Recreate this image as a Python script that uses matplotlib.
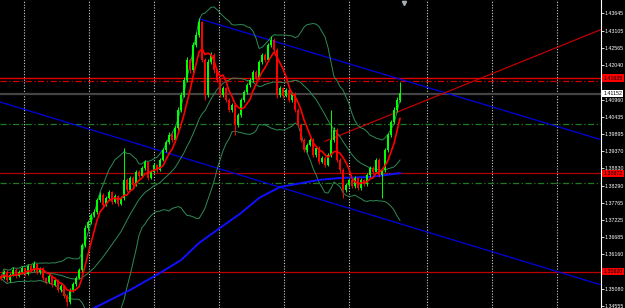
import matplotlib
matplotlib.use("Agg")
import matplotlib.pyplot as plt
import matplotlib.transforms as mtransforms
import pandas as pd

# candles (one per bar, oldest first)
first_open = 1.3549
close = [1.3542, 1.3561, 1.3536, 1.3552, 1.3567, 1.3549, 1.3561, 1.3573, 1.3555, 1.3580,
         1.3567, 1.3586, 1.3561, 1.3573, 1.3542, 1.3530, 1.3549, 1.3521, 1.3536, 1.3505,
         1.3518, 1.3486, 1.3468, 1.3505, 1.3524, 1.3542, 1.3567, 1.3645, 1.3698, 1.3716,
         1.3738, 1.3747, 1.3785, 1.3800, 1.3769, 1.3791, 1.3809, 1.3778, 1.3797, 1.3772,
         1.3791, 1.3847, 1.3816, 1.3853, 1.3831, 1.3872, 1.3859, 1.3884, 1.3903, 1.3853,
         1.3872, 1.3893, 1.3878, 1.3909, 1.3940, 1.3965, 1.3987, 1.3971, 1.4008, 1.4064,
         1.4111, 1.4157, 1.4220, 1.4188, 1.4266, 1.4297, 1.4337, 1.4220, 1.4111, 1.4213,
         1.4235, 1.4188, 1.4157, 1.4111, 1.4132, 1.4095, 1.4064, 1.4080, 1.4018, 1.4049,
         1.4095, 1.4120, 1.4142, 1.4157, 1.4182, 1.4164, 1.4213, 1.4235, 1.4220, 1.4266,
         1.4282, 1.4251, 1.4111, 1.4132, 1.4108, 1.4126, 1.4095, 1.4114, 1.4064, 1.4018,
         1.3971, 1.3940, 1.3956, 1.3971, 1.3924, 1.3946, 1.3903, 1.3915, 1.3893, 1.3924,
         1.3971, 1.4002, 1.3909, 1.3878, 1.3816, 1.3831, 1.3847, 1.3828, 1.3853, 1.3822,
         1.3847, 1.3834, 1.3862, 1.3884, 1.3872, 1.3909, 1.3862, 1.3878, 1.3940, 1.3987,
         1.4027, 1.4064, 1.4095, 1.4115]
high = [1.3556, 1.3568, 1.3566, 1.3558, 1.3575, 1.3572, 1.3566, 1.3580, 1.3578, 1.3587,
        1.3585, 1.3595, 1.3590, 1.3578, 1.3577, 1.3547, 1.3556, 1.3553, 1.3542, 1.3540,
        1.3524, 1.3522, 1.3492, 1.3510, 1.3530, 1.3548, 1.3574, 1.3652, 1.3706, 1.3724,
        1.3745, 1.3756, 1.3792, 1.3808, 1.3805, 1.3797, 1.3816, 1.3813, 1.3803, 1.3801,
        1.3797, 1.3946, 1.3853, 1.3860, 1.3858, 1.3879, 1.3877, 1.3890, 1.3910, 1.3907,
        1.3878, 1.3900, 1.3897, 1.3915, 1.3947, 1.3972, 1.3995, 1.3992, 1.4015, 1.4072,
        1.4120, 1.4166, 1.4230, 1.4226, 1.4274, 1.4306, 1.4350, 1.4342, 1.4226, 1.4222,
        1.4245, 1.4240, 1.4193, 1.4162, 1.4140, 1.4137, 1.4100, 1.4087, 1.4085, 1.4055,
        1.4102, 1.4127, 1.4149, 1.4164, 1.4189, 1.4188, 1.4220, 1.4242, 1.4240, 1.4273,
        1.4294, 1.4288, 1.4256, 1.4139, 1.4137, 1.4133, 1.4130, 1.4120, 1.4119, 1.4069,
        1.4023, 1.3976, 1.3963, 1.3978, 1.3976, 1.3953, 1.3951, 1.3922, 1.3920, 1.3930,
        1.4064, 1.4010, 1.4007, 1.3914, 1.3883, 1.3838, 1.3853, 1.3852, 1.3859, 1.3857,
        1.3853, 1.3851, 1.3869, 1.3891, 1.3889, 1.3916, 1.3914, 1.3884, 1.3947, 1.3994,
        1.4034, 1.4072, 1.4103, 1.4151]
low = [1.3536, 1.3538, 1.3530, 1.3531, 1.3548, 1.3543, 1.3545, 1.3557, 1.3549, 1.3551,
       1.3562, 1.3563, 1.3555, 1.3556, 1.3536, 1.3524, 1.3526, 1.3515, 1.3517, 1.3498,
       1.3499, 1.3480, 1.3455, 1.3462, 1.3500, 1.3519, 1.3538, 1.3562, 1.3640, 1.3690,
       1.3710, 1.3731, 1.3742, 1.3779, 1.3763, 1.3765, 1.3786, 1.3772, 1.3774, 1.3766,
       1.3768, 1.3786, 1.3810, 1.3812, 1.3825, 1.3827, 1.3853, 1.3855, 1.3879, 1.3847,
       1.3849, 1.3868, 1.3872, 1.3874, 1.3905, 1.3935, 1.3960, 1.3965, 1.3966, 1.4002,
       1.4058, 1.4105, 1.4150, 1.4180, 1.4183, 1.4260, 1.4290, 1.4212, 1.4095, 1.4105,
       1.4206, 1.4180, 1.4150, 1.4104, 1.4106, 1.4088, 1.4057, 1.4058, 1.3987, 1.4012,
       1.4043, 1.4090, 1.4115, 1.4137, 1.4152, 1.4158, 1.4159, 1.4208, 1.4214, 1.4215,
       1.4260, 1.4245, 1.4100, 1.4105, 1.4102, 1.4103, 1.4089, 1.4090, 1.4058, 1.4010,
       1.3964, 1.3933, 1.3935, 1.3951, 1.3917, 1.3919, 1.3896, 1.3898, 1.3886, 1.3889,
       1.3919, 1.3965, 1.3902, 1.3870, 1.3791, 1.3808, 1.3826, 1.3821, 1.3823, 1.3815,
       1.3817, 1.3828, 1.3829, 1.3857, 1.3866, 1.3867, 1.3855, 1.3791, 1.3873, 1.3935,
       1.3981, 1.4020, 1.4058, 1.4090]

# slow moving average (blue), read at some bars
slow_ma_bar = [29, 31, 43, 53, 60, 66, 73, 80, 86, 93, 100, 106, 113, 123, 133]
slow_ma = [1.3437, 1.3449, 1.3505, 1.3558, 1.3598, 1.3651, 1.3698, 1.3744, 1.3791,
           1.3825, 1.3837, 1.3847, 1.3853, 1.3856, 1.3868]

# horizontal levels
bid = 1.41152
red_levels = [1.41635, 1.38672, 1.35620]
red_dashdot = 1.4154
green_dashdot = [1.4021, 1.3837]

# trend lines: (bar, price) pairs
upper_trend = [(66.3, 1.4347), (200, 1.3972)]
lower_trend = [(-0.33, 1.4089), (200, 1.3521)]
red_trend = [(108, 1.3967), (200, 1.4314)]

# vertical grid (period separators), in bars
grid_bars = [7.7, 29.3, 51, 72.7, 94.3, 116, 142, 163.7, 185.3]

yticks = [1.43645, 1.43105, 1.42565, 1.42040, 1.40960, 1.40435, 1.39895, 1.39370,
          1.38830, 1.38290, 1.37765, 1.37225, 1.36685, 1.36160, 1.35080, 1.34555]

opens = [first_open] + close[:-1]
n = len(close)
bars = list(range(n))

s = pd.Series(close)
fast_ma = s.rolling(6, min_periods=1).mean()
bb_mid = s.rolling(20, min_periods=1).mean()
bb_sd = s.rolling(20, min_periods=1).std(ddof=0)
bb_up = bb_mid + 2 * bb_sd
bb_dn = bb_mid - 2 * bb_sd

plt.rcParams['font.family'] = ['Liberation Sans', 'DejaVu Sans']

fig = plt.figure(figsize=(6.25, 3.08), dpi=100, facecolor='black')
ax = fig.add_axes([0, 0, 601 / 625, 1], facecolor='black')
ax.set_xlim(-1 / 3, 200)
ax.set_ylim(1.34492, 1.44058)

for b in grid_bars:
    ax.axvline(b, color='#d0d0d0', lw=0.8, ls=(0, (1, 1.5)), zorder=1)

ax.axhline(red_levels[0], color='#e00000', lw=1.0, zorder=2)
ax.axhline(red_dashdot, color='#d00000', lw=0.9, ls=(0, (5, 2, 1, 2)), zorder=2)
ax.axhline(bid, color='#444444', lw=1.6, zorder=2)
ax.axhline(red_levels[1], color='#b00000', lw=0.9, zorder=2)
ax.axhline(red_levels[2], color='#c00000', lw=0.9, zorder=2)
for g in green_dashdot:
    ax.axhline(g, color='#1f7a1f', lw=0.9, ls=(0, (5, 2, 1, 2)), zorder=2)

for line, col in [(upper_trend, '#0000e0'), (lower_trend, '#0000e0'), (red_trend, '#c00000')]:
    ax.plot([line[0][0], line[1][0]], [line[0][1], line[1][1]], color=col, lw=0.9, zorder=3)

ax.plot(bars, bb_up, color='#2e8b57', lw=0.7, zorder=3)
ax.plot(bars, bb_mid, color='#2e8b57', lw=0.7, zorder=3)
ax.plot(bars, bb_dn, color='#2e8b57', lw=0.7, zorder=3)
ax.plot(slow_ma_bar, slow_ma, color='#1010ff', lw=1.4, zorder=3)

cols = ['#00ff00' if c >= o else '#ff0000' for o, c in zip(opens, close)]
ax.vlines(bars, low, high, colors=cols, lw=0.7, zorder=4)
ax.bar(bars, [abs(c - o) + 0.00005 for o, c in zip(opens, close)],
       bottom=[min(o, c) for o, c in zip(opens, close)], width=0.6, color=cols, zorder=4)

ax.plot(bars, fast_ma, color='#ff0000', lw=1.2, zorder=5)

# small object marker at the top
ax.plot([134.3], [1.4398], marker='v', color='#a8b0b8', ms=3, zorder=6)

# right price scale
for sp in ['left', 'top', 'bottom']:
    ax.spines[sp].set_visible(False)
ax.spines['right'].set_color('white')
ax.spines['right'].set_linewidth(0.8)
ax.set_xticks([])
ax.yaxis.tick_right()
ax.set_yticks(yticks)
ax.set_yticklabels(['%.5f' % v for v in yticks])
ax.tick_params(axis='y', colors='white', labelsize=3.8, length=2, width=0.6, pad=0.8)

trans = mtransforms.blended_transform_factory(ax.transAxes, ax.transData)
for v in red_levels:
    ax.text(1.004, v, '%.5f' % v, transform=trans, fontsize=3.8, color='black', va='center',
            ha='left', bbox=dict(facecolor='#ff0000', edgecolor='none', pad=0.8), clip_on=False)
ax.text(1.004, bid, '%.5f' % bid, transform=trans, fontsize=3.8, color='black', va='center',
        ha='left', bbox=dict(facecolor='white', edgecolor='none', pad=0.8), clip_on=False)

plt.savefig('out.png', dpi=100, facecolor='black')
